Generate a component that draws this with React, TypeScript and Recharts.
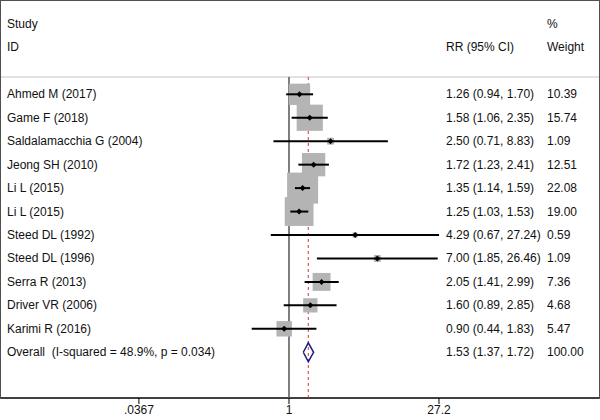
import React from 'react';
import { ComposedChart, Scatter, XAxis, YAxis, ReferenceLine } from 'recharts';

// study rows
const studies = [
  'Ahmed M (2017)',
  'Game F (2018)',
  'Saldalamacchia G (2004)',
  'Jeong SH (2010)',
  'Li L (2015)',
  'Li L (2015)',
  'Steed DL (1992)',
  'Steed DL (1996)',
  'Serra R (2013)',
  'Driver VR (2006)',
  'Karimi R (2016)',
];
const rr = [1.26, 1.58, 2.5, 1.72, 1.35, 1.25, 4.29, 7.0, 2.05, 1.6, 0.9];
const lower = [0.94, 1.06, 0.71, 1.23, 1.14, 1.03, 0.67, 1.85, 1.41, 0.89, 0.44];
const upper = [1.7, 2.35, 8.83, 2.41, 1.59, 1.53, 27.24, 26.46, 2.99, 2.85, 1.83];
const weight = [10.39, 15.74, 1.09, 12.51, 22.08, 19.0, 0.59, 1.09, 7.36, 4.68, 5.47];

const overallLabel = 'Overall  (I-squared = 48.9%, p = 0.034)';
const overallRR = 1.53;
const overallLower = 1.37;
const overallUpper = 1.72;
const overallWeight = 100.0;

const xTicks = [0.0367, 1, 27.2];
const xTickLabels = ['.0367', '1', '27.2'];

const FONT = 'Arial, "Liberation Sans", sans-serif';

// axis ranges (log scale in x, row index in y)
const X_DOMAIN = [0.001722, 943.3];
const Y_DOMAIN = [-3.021, 13.95];
const HEADER_ROW = 0.263;

const rows = studies.map((s, i) => ({
  x: rr[i],
  y: i + 1,
  study: s,
  w: weight[i],
  ci: `${rr[i].toFixed(2)} (${lower[i].toFixed(2)}, ${upper[i].toFixed(2)})`,
  wt: weight[i].toFixed(2),
}));

// one two-point segment per study for the confidence interval
const ciSegments = studies.map((_, i) => [
  { x: lower[i], y: i + 1 },
  { x: upper[i], y: i + 1 },
]);

const overallRow = {
  x: 1,
  y: studies.length + 1,
  study: overallLabel,
  ci: `${overallRR.toFixed(2)} (${overallLower.toFixed(2)}, ${overallUpper.toFixed(2)})`,
  wt: overallWeight.toFixed(2),
};

const labelRows = [...rows.map((r) => ({ ...r, x: 1 })), overallRow];

const headers = [
  { x: 1, y: -2, study: 'Study', ci: '', wt: '%' },
  { x: 1, y: -1, study: 'ID', ci: 'RR (95% CI)', wt: 'Weight' },
];

const diamond = [
  { x: overallLower, y: overallRow.y },
  { x: overallRR, y: overallRow.y - 0.4 },
  { x: overallUpper, y: overallRow.y },
  { x: overallRR, y: overallRow.y + 0.4 },
  { x: overallLower, y: overallRow.y },
];

const nullLine = [
  { x: 1, y: HEADER_ROW },
  { x: 1, y: Y_DOMAIN[1] },
];
const pooledLine = [
  { x: overallRR, y: HEADER_ROW },
  { x: overallRR, y: Y_DOMAIN[1] },
];

const Empty = () => <g />;

const BoxShape = (props: any) => {
  const { cx, cy, payload } = props;
  const s = 6.6 * Math.sqrt(payload.w);
  return <rect x={cx - s / 2} y={cy - s / 2} width={s} height={s} fill="#b4b4b4" />;
};

const PointShape = (props: any) => {
  const { cx, cy } = props;
  const d = 3;
  return (
    <path
      d={`M${cx - d},${cy} L${cx},${cy - d} L${cx + d},${cy} L${cx},${cy + d} Z`}
      fill="#000"
    />
  );
};

const TextShape = (props: any) => {
  const { cy, payload } = props;
  const st = { fontFamily: FONT, fontSize: 12, fill: '#111', whiteSpace: 'pre' as const };
  return (
    <g>
      <text x={7} y={cy} dominantBaseline="central" style={st}>
        {payload.study}
      </text>
      <text x={446} y={cy} dominantBaseline="central" style={st}>
        {payload.ci}
      </text>
      <text x={547} y={cy} dominantBaseline="central" style={st}>
        {payload.wt}
      </text>
    </g>
  );
};

export default function App() {
  return (
    <div style={{ position: 'fixed', left: 0, top: 0, width: 600, height: 420, background: '#fff' }}>
      <ComposedChart width={600} height={420} margin={{ top: 0, right: 0, bottom: 0, left: 0 }}>
        <XAxis
          type="number"
          dataKey="x"
          scale="log"
          domain={X_DOMAIN}
          allowDataOverflow
          ticks={xTicks}
          tickFormatter={(v: number) => xTickLabels[xTicks.indexOf(v)] ?? String(v)}
          height={22}
          tickSize={6}
          tickMargin={1}
          tick={{ fontSize: 12, fill: '#111', fontFamily: FONT }}
          axisLine={{ stroke: '#000', strokeWidth: 1.5 }}
          tickLine={{ stroke: '#000' }}
          interval={0}
        />
        <YAxis type="number" dataKey="y" domain={Y_DOMAIN} reversed hide allowDataOverflow />
        <ReferenceLine y={HEADER_ROW} stroke="#c4c4c4" strokeWidth={1} />
        <Scatter
          data={nullLine}
          line={{ stroke: '#555', strokeWidth: 1.5 }}
          shape={Empty}
          isAnimationActive={false}
        />
        <Scatter
          data={pooledLine}
          line={{ stroke: '#cc3a3a', strokeWidth: 1, strokeDasharray: '3 3' }}
          shape={Empty}
          isAnimationActive={false}
        />
        <Scatter data={rows} shape={BoxShape} isAnimationActive={false} />
        {ciSegments.map((seg, i) => (
          <Scatter
            key={`ci-${i}`}
            data={seg}
            line={{ stroke: '#000', strokeWidth: 2 }}
            shape={Empty}
            isAnimationActive={false}
          />
        ))}
        <Scatter data={rows} shape={PointShape} isAnimationActive={false} />
        <Scatter
          data={diamond}
          line={{ stroke: '#1c1c80', strokeWidth: 1.5 }}
          shape={Empty}
          isAnimationActive={false}
        />
        <Scatter data={labelRows} shape={TextShape} isAnimationActive={false} />
        <Scatter data={headers} shape={TextShape} isAnimationActive={false} />
      </ComposedChart>
      <div
        style={{
          position: 'absolute',
          left: 0,
          top: 0,
          width: 600,
          height: 399,
          boxSizing: 'border-box',
          borderTop: '1px solid #505050',
          borderLeft: '1px solid #505050',
          borderRight: '1px solid #505050',
          pointerEvents: 'none',
        }}
      />
    </div>
  );
}
